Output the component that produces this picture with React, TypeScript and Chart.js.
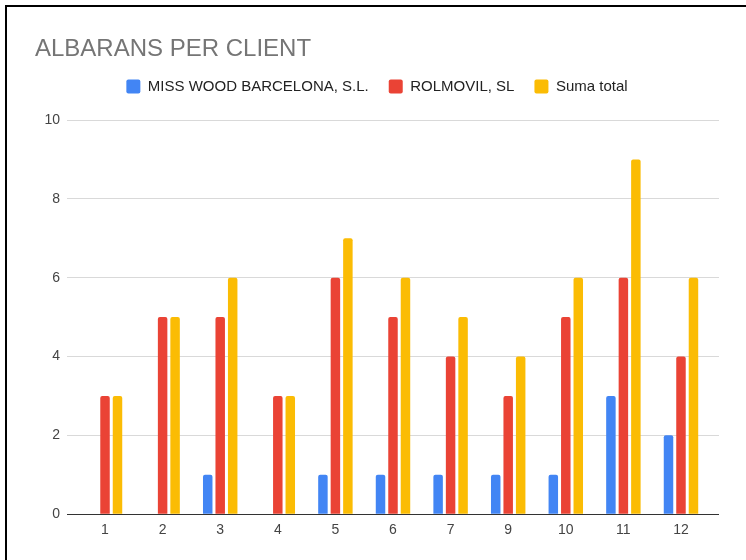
import React, { useEffect, useRef } from "react";
import { Chart, registerables } from "chart.js";

Chart.register(...registerables);

const categories: string[] = ["1", "2", "3", "4", "5", "6", "7", "9", "10", "11", "12"];
const missWood: (number | null)[] = [null, null, 1, null, 1, 1, 1, 1, 1, 3, 2];
const rolmovil: number[] = [3, 5, 5, 3, 6, 5, 4, 3, 5, 6, 4];
const sumaTotal: number[] = [3, 5, 6, 3, 7, 6, 5, 4, 6, 9, 6];
const seriesNames: string[] = ["MISS WOOD BARCELONA, S.L.", "ROLMOVIL, SL", "Suma total"];
const titleText = "ALBARANS PER CLIENT";

const FONT = "'Liberation Sans', Arial, sans-serif";

export default function App() {
  const ref = useRef<HTMLCanvasElement | null>(null);

  useEffect(() => {
    if (!ref.current) return;
    const toPoints = (arr: (number | null)[]) => arr.map((y, i) => ({ x: i, y }));
    const legendGap = {
      id: "legendGap",
      beforeInit(chart: any) {
        const lg = chart.legend;
        if (!lg) return;
        const orig = lg.fit;
        lg.fit = function () {
          orig.call(lg);
          lg.height += 16;
        };
      },
    };
    const chart = new Chart(ref.current, {
      type: "bar",
      data: {
        datasets: [
          { label: seriesNames[0], data: toPoints(missWood) as any, backgroundColor: "#4285F4" },
          { label: seriesNames[1], data: toPoints(rolmovil) as any, backgroundColor: "#EA4335" },
          { label: seriesNames[2], data: toPoints(sumaTotal) as any, backgroundColor: "#FBBC04" },
        ],
      },
      options: {
        animation: false,
        responsive: false,
        maintainAspectRatio: false,
        layout: { padding: { left: 28, right: 25, top: 0, bottom: 13 } },
        datasets: {
          bar: {
            categoryPercentage: 0.65,
            barPercentage: 0.76,
            borderRadius: 2,
          },
        },
        plugins: {
          title: {
            display: true,
            text: titleText,
            align: "start",
            color: "#757575",
            font: { family: FONT, size: 24, weight: "normal", lineHeight: 1 },
            padding: { top: 30, bottom: -2 },
          },
          legend: {
            display: true,
            position: "top",
            labels: {
              boxWidth: 14,
              boxHeight: 14,
              padding: 20,
              color: "#222",
              font: { family: FONT, size: 15 },
              useBorderRadius: true,
              borderRadius: 2,
            },
          },
          tooltip: { enabled: false },
        },
        scales: {
          x: {
            type: "linear",
            min: -0.66,
            max: 10.66,
            offset: false,
            grid: { display: false, drawTicks: false },
            border: { display: false },
            ticks: {
              stepSize: 1,
              includeBounds: false,
              autoSkip: false,
              maxRotation: 0,
              padding: 8,
              color: "#444",
              font: { family: FONT, size: 14 },
              callback: (v: any) => {
                const i = Number(v);
                return Number.isInteger(i) && categories[i] !== undefined ? categories[i] : "";
              },
            },
          },
          y: {
            min: 0,
            max: 10,
            border: { display: false },
            grid: {
              drawTicks: false,
              color: (ctx: any) => (ctx.tick && ctx.tick.value === 0 ? "#333" : "#d9d9d9"),
              lineWidth: 1,
            },
            ticks: {
              stepSize: 2,
              padding: 7,
              color: "#444",
              font: { family: FONT, size: 14 },
            },
            afterFit: (scale: any) => {
              scale.width = 32;
            },
          },
        },
      } as any,
      plugins: [legendGap],
    });
    return () => chart.destroy();
  }, []);

  return (
    <div
      style={{
        position: "absolute",
        left: 5,
        top: 5,
        width: 741,
        height: 555,
        borderTop: "2px solid #000",
        borderLeft: "2px solid #000",
        boxSizing: "border-box",
        background: "#fff",
        overflow: "hidden",
      }}
    >
      <canvas ref={ref} width={737} height={553} style={{ display: "block", width: 737, height: 553 }} />
    </div>
  );
}
